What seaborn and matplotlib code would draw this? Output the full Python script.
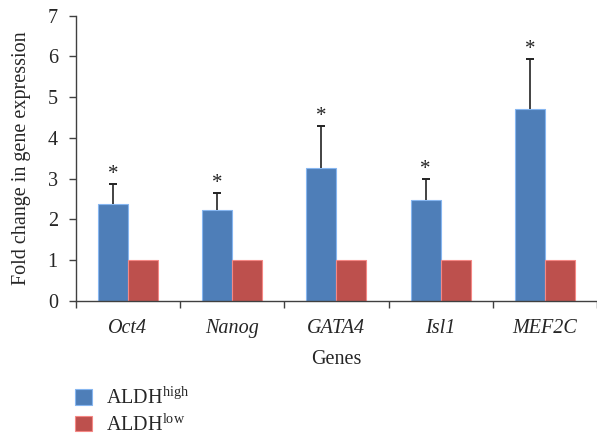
import numpy as np
import pandas as pd
import matplotlib
matplotlib.use("Agg")
import matplotlib.pyplot as plt
import seaborn as sns

genes = ["Oct4", "Nanog", "GATA4", "Isl1", "MEF2C"]
aldh_high = [2.38, 2.24, 3.25, 2.47, 4.70]
aldh_high_err = [0.48, 0.41, 1.03, 0.53, 1.23]
aldh_low = [1.0, 1.0, 1.0, 1.0, 1.0]
groups = [r"ALDH$^{\mathrm{high}}$", r"ALDH$^{\mathrm{low}}$"]
colors = ["#4E7EB8", "#BD504D"]
yticks = [0, 1, 2, 3, 4, 5, 6, 7]

sns.set_style("ticks")
plt.rcParams["font.family"] = ["Liberation Serif", "DejaVu Serif"]
plt.rcParams["mathtext.fontset"] = "custom"
plt.rcParams["mathtext.rm"] = "Liberation Serif"
plt.rcParams["mathtext.it"] = "Liberation Serif:italic"

FS = 14.5

df = pd.DataFrame({
    "Genes": genes * 2,
    "value": aldh_high + aldh_low,
    "group": [groups[0]] * len(genes) + [groups[1]] * len(genes),
})

fig = plt.figure(figsize=(5.97, 4.34), dpi=100)
ax = fig.add_axes([0.127, 0.307, 0.873, 0.657])

sns.barplot(data=df, x="Genes", y="value", hue="group", palette=colors,
            order=genes, hue_order=groups, width=0.575, gap=0, saturation=1,
            errorbar=None, ax=ax, legend=True)

for p in ax.patches:
    fc = p.get_facecolor()
    light = tuple(min(1, c + 0.22) for c in fc[:3])
    p.set_edgecolor(light)
    p.set_linewidth(0.8)

blue_bars = [p for p in ax.patches if p.get_height() > 0][:len(genes)]
blue_bars = sorted(blue_bars, key=lambda p: p.get_x())
for p, v, e in zip(blue_bars, aldh_high, aldh_high_err):
    xc = p.get_x() + p.get_width() / 2
    ax.vlines(xc, v, v + e, color="#222222", linewidth=1.2, zorder=5)
    ax.plot([xc], [v + e], marker="_", markersize=6, markeredgewidth=1.4,
            color="#222222", zorder=5)
    ax.annotate("*", (xc, v + e), xytext=(0, 0), textcoords="offset points",
                ha="center", va="bottom", fontsize=15, color="#222222")

ax.set_ylim(0, 7)
ax.set_xlim(-0.5, 4.5)
ax.set_yticks(yticks)
ax.set_yticklabels([str(t) for t in yticks], fontsize=FS)
ax.set_xticks(range(len(genes)))
ax.set_xticklabels(genes, fontsize=FS, style="italic")
ax.tick_params(axis="x", which="major", length=0, pad=13)
ax.set_xticks(np.arange(-0.5, len(genes), 1), minor=True)
ax.tick_params(axis="x", which="minor", length=5, width=1, color="#404040", direction="out")
ax.tick_params(axis="y", length=5, width=1, color="#404040", pad=8)

for s in ["top", "right"]:
    ax.spines[s].set_visible(False)
for s in ["left", "bottom"]:
    ax.spines[s].set_color("#404040")
    ax.spines[s].set_linewidth(1.0)

ax.set_xlabel("Genes", fontsize=FS, labelpad=9)
ax.set_ylabel("Fold change in gene expression", fontsize=FS, labelpad=12)

handles, labels = ax.get_legend_handles_labels()
ax.get_legend().remove()
fig.legend(handles, labels, loc="upper left", bbox_to_anchor=(0.125, 0.106),
           frameon=False, fontsize=FS, handlelength=0.85, handleheight=0.8,
           handletextpad=0.7, labelspacing=0.25, borderaxespad=0, borderpad=0)

fig.savefig("out.png", dpi=100)
